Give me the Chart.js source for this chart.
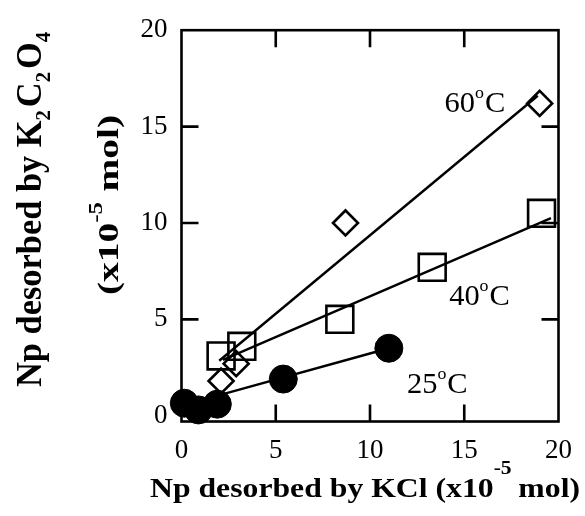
<!DOCTYPE html>
<html>
<head>
<meta charset="utf-8">
<script src="https://cdn.jsdelivr.net/npm/chart.js@4.4.1/dist/chart.umd.min.js"></script>
<style>
  html, body { margin: 0; padding: 0; background: #fff; }
  #wrap { width: 585px; height: 516px; position: relative; }
</style>
</head>
<body>
<div id="wrap"><canvas id="c" width="585" height="516"></canvas></div>
<script>
// ---- data ----
const xTicks = [0, 5, 10, 15, 20];
const yTicks = [0, 5, 10, 15, 20];

// 60 °C  (open diamonds)
const kcl60 = [2.1, 2.9, 8.7, 19.0];
const k2c60 = [1.8, 2.7, 10.0, 16.2];
// 40 °C  (open squares)
const kcl40 = [2.1, 3.2, 8.4, 13.3, 19.1];
const k2c40 = [3.1, 3.6, 5.0, 7.7, 10.5];
// 25 °C  (filled circles)
const kcl25 = [0.15, 0.9, 1.9, 5.4, 11.0];
const k2c25 = [0.65, 0.3, 0.6, 1.9, 3.5];

// fitted lines (end points)
const fit60X = [2.0, 18.9];
const fit60Y = [2.85, 16.6];
const fit40X = [2.2, 19.6];
const fit40Y = [2.9, 10.25];
const fit25X = [2.3, 11.0];
const fit25Y = [1.15, 3.5];

// series labels
const seriesNames = ['60', '40', '25'];

// ---- helpers ----
const pts = (xs, ys) => xs.map((x, i) => ({ x: x, y: ys[i] }));
const SERIF = '"Liberation Serif", "Times New Roman", serif';

function drawRich(ctx, segs, x, y, o) {
  const base = o.size, small = o.small || Math.round(o.size * 0.6);
  const weight = o.weight || 'normal';
  let widths = [], total = 0;
  segs.forEach(s => {
    const sz = (s.sub || s.sup) ? small : base;
    ctx.font = weight + ' ' + sz + 'px ' + SERIF;
    const w = ctx.measureText(s.t).width + (s.gap || 0);
    widths.push(w); total += w;
  });
  const sx = o.width ? o.width / total : (o.sx || 1);
  ctx.save();
  ctx.translate(x, y);
  if (o.rotate) ctx.rotate(-Math.PI / 2);
  ctx.scale(sx, 1);
  let cx = o.align === 'left' ? 0 : -total / 2;
  ctx.fillStyle = '#000';
  ctx.textBaseline = 'alphabetic';
  ctx.textAlign = 'left';
  segs.forEach((s, i) => {
    const sz = (s.sub || s.sup) ? small : base;
    ctx.font = weight + ' ' + sz + 'px ' + SERIF;
    let dy = 0;
    if (s.sub) dy = o.subShift || base * 0.3;
    if (s.sup) dy = -(o.supShift || base * 0.75);
    ctx.fillText(s.t, cx, dy);
    cx += widths[i];
  });
  ctx.restore();
}

const decorPlugin = {
  id: 'decor',
  afterDraw(chart) {
    const ctx = chart.ctx;
    const a = chart.chartArea;
    const xs = chart.scales.x, ys = chart.scales.y;
    ctx.save();
    ctx.strokeStyle = '#000';
    ctx.lineWidth = 2.6;
    ctx.strokeRect(a.left, a.top, a.right - a.left, a.bottom - a.top);
    const L = 17;
    ctx.beginPath();
    xTicks.forEach(v => {
      if (v === xs.min || v === xs.max) return;
      const px = xs.getPixelForValue(v);
      ctx.moveTo(px, a.bottom); ctx.lineTo(px, a.bottom - L);
      ctx.moveTo(px, a.top); ctx.lineTo(px, a.top + L);
    });
    yTicks.forEach(v => {
      if (v === 0 || v === 20) return;
      const py = ys.getPixelForValue(v);
      ctx.moveTo(a.left, py); ctx.lineTo(a.left + L, py);
      ctx.moveTo(a.right, py); ctx.lineTo(a.right - L, py);
    });
    ctx.stroke();
    ctx.restore();

    // series labels  "60°C" etc (degree as raised small o)
    const anchors = [[13.95, 15.74], [14.2, 5.73], [11.96, 1.19]];
    seriesNames.forEach((n, i) => {
      const px = xs.getPixelForValue(anchors[i][0]);
      const py = ys.getPixelForValue(anchors[i][1]);
      drawRich(ctx, [{ t: n }, { t: 'o', sup: true, gap: 1 }, { t: 'C' }], px, py,
        { size: 29, small: 17, supShift: 14, align: 'left', sx: 1.05 });
    });

    // x-axis title
    drawRich(ctx, [
      { t: 'Np desorbed by KCl (x10' },
      { t: '-5', sup: true, gap: 6 },
      { t: 'mol)' }
    ], 365, 497, { size: 28, small: 19, supShift: 23, weight: 'bold', width: 430 });

    // y-axis title (two lines, rotated)
    drawRich(ctx, [
      { t: 'Np desorbed by K' }, { t: '2', sub: true, gap: 3 },
      { t: 'C' }, { t: '2', sub: true, gap: 3 },
      { t: 'O' }, { t: '4', sub: true }
    ], 41, 209.5, { size: 35, small: 21, subShift: 9, weight: 'bold', rotate: true, width: 355 });
    drawRich(ctx, [
      { t: '(x10' }, { t: '-5', sup: true, gap: 8 }, { t: 'mol)' }
    ], 118, 205, { size: 30, small: 19, supShift: 16, weight: 'bold', rotate: true, width: 180 });
  }
};

const lineDs = (xs, ys) => ({
  data: pts(xs, ys), showLine: true, pointRadius: 0, borderColor: '#000',
  borderWidth: 2.4, fill: false, clip: false, order: 2
});

new Chart(document.getElementById('c'), {
  type: 'scatter',
  data: {
    datasets: [
      lineDs(fit60X, fit60Y),
      lineDs(fit40X, fit40Y),
      lineDs(fit25X, fit25Y),
      { label: '60', data: pts(kcl60, k2c60), pointStyle: 'rectRot', pointRadius: 12.5,
        borderColor: '#000', backgroundColor: 'rgba(0,0,0,0)', borderWidth: 2.6, clip: false, order: 1 },
      { label: '40', data: pts(kcl40, k2c40), pointStyle: 'rect', pointRadius: 19,
        borderColor: '#000', backgroundColor: 'rgba(0,0,0,0)', borderWidth: 2.6, clip: false, order: 1 },
      { label: '25', data: pts(kcl25, k2c25), pointStyle: 'circle', pointRadius: 14,
        borderColor: '#000', backgroundColor: '#000', borderWidth: 1, clip: false, order: 1 }
    ]
  },
  options: {
    responsive: false,
    animation: false,
    events: [],
    layout: { padding: { left: 0, right: 18.5, top: 29.5, bottom: 0 } },
    plugins: { legend: { display: false }, tooltip: { enabled: false }, title: { display: false } },
    scales: {
      x: {
        type: 'linear', min: 0, max: 20,
        afterBuildTicks: s => { s.ticks = xTicks.map(v => ({ value: v })); },
        afterFit: s => { s.height = 94.5; },
        grid: { display: false, drawTicks: false },
        border: { display: false },
        ticks: { color: '#000', padding: 13, font: { family: SERIF, size: 27 } }
      },
      y: {
        type: 'linear', min: -0.3, max: 20,
        afterBuildTicks: s => { s.ticks = yTicks.map(v => ({ value: v })); },
        afterFit: s => { s.width = 181.5; },
        grid: { display: false, drawTicks: false },
        border: { display: false },
        ticks: { color: '#000', padding: 14, font: { family: SERIF, size: 27 } }
      }
    }
  },
  plugins: [decorPlugin]
});
</script>
</body>
</html>
